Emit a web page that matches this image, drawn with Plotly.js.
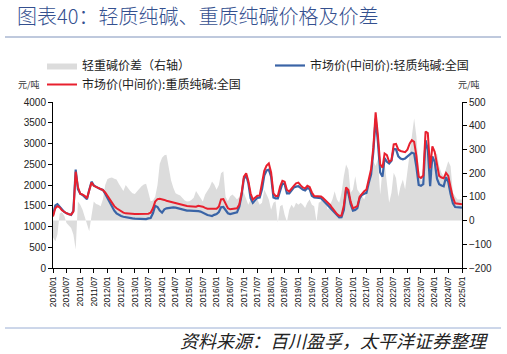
<!DOCTYPE html>
<html>
<head>
<meta charset="utf-8">
<script src="https://cdn.plot.ly/plotly-3.0.1.min.js"></script>
<style>html,body{margin:0;padding:0;background:#fff;}#chart{width:507px;height:354px;}</style>
</head>
<body>
<div id="chart"></div>
<script>
// Monthly data, 2010/01 .. 2025/01
const startYear = 2010;
const monthCount = 181;

// 市场价(中间价):轻质纯碱:全国 (元/吨)
const lightPrice = [
1280,1510,1540,1480,1400,1350,1317,1295,1277,1380,2370,1900,
1790,1760,1704,1655,1880,2080,1990,1950,1925,1900,1880,1790,
1680,1600,1460,1380,1317,1280,1253,1235,1221,1210,1200,1197,
1190,1185,1180,1175,1173,1180,1195,1205,1317,1500,1470,1382,
1334,1414,1438,1450,1462,1460,1455,1440,1420,1400,1390,1382,
1382,1382,1382,1380,1370,1360,1330,1300,1277,1265,1253,1280,
1301,1350,1462,1470,1400,1320,1301,1320,1334,1340,1480,1750,
2150,2230,2050,1680,1570,1640,1690,1700,1900,2230,2350,2370,
2200,1700,1680,1680,1880,2040,2020,1800,1800,1870,1940,1960,
1970,1930,1890,1870,1930,1900,1740,1700,1700,1690,1680,1620,
1570,1500,1440,1380,1317,1260,1221,1225,1400,1880,1800,1540,
1382,1400,1440,1680,1760,1790,1810,2050,2250,2800,3600,3050,
2300,2200,2650,2560,2520,2587,2870,2860,2690,2640,2620,2640,
2690,2730,2780,2760,2440,2000,1980,2020,3080,2850,1970,2690,
2560,2150,2020,1990,1970,2190,2070,1780,1560,1470,1465,1460,
1455
];

// 市场价(中间价):重质纯碱:全国 (元/吨)
const heavyPrice = [
1240,1440,1490,1460,1390,1350,1320,1295,1285,1360,2320,1950,
1790,1770,1740,1680,1880,2060,1980,1950,1920,1900,1880,1820,
1740,1640,1560,1490,1440,1400,1360,1335,1317,1310,1305,1300,
1300,1300,1300,1300,1300,1300,1310,1330,1440,1600,1660,1670,
1660,1640,1620,1605,1590,1570,1560,1545,1530,1515,1505,1495,
1490,1485,1480,1478,1500,1495,1478,1450,1430,1430,1430,1430,
1430,1480,1655,1660,1560,1440,1414,1420,1438,1440,1530,1800,
2200,2280,2100,1800,1650,1700,1740,1750,2100,2340,2470,2520,
2300,1800,1736,1736,1960,2100,2080,1880,1845,1900,1980,2040,
2057,1990,1940,1920,1980,1950,1820,1736,1736,1736,1725,1680,
1630,1570,1520,1440,1370,1300,1260,1265,1500,1940,1880,1600,
1438,1460,1490,1720,1790,1850,1890,2150,2380,2900,3750,3200,
2500,2420,2760,2720,2560,2600,2980,2990,2850,2820,2800,2790,
2850,3000,3080,3040,2700,2200,2170,2230,3286,3250,2400,2930,
2800,2450,2220,2180,2162,2290,2220,1950,1700,1560,1550,1540,
1535
];

// 轻重碱价差（右轴） (元/吨)
const spread = [
-70,-87,-59,30,35,20,-10,-20,-31,-59,-122,80,
67,46,15,-20,-45,20,80,70,67,60,90,150,
175,180,182,176,173,155,140,125,150,135,125,115,
112,124,135,145,152,155,120,82,85,100,150,240,
265,275,278,230,170,138,115,110,106,95,85,80,
82,88,96,125,110,96,80,110,124,140,165,152,
130,150,200,208,100,82,103,110,100,89,100,131,
117,89,67,89,81,75,89,67,75,131,110,89,
46,75,81,-8,60,67,25,-5,46,67,53,75,
67,75,67,53,75,89,67,60,-5,75,81,103,
75,46,67,89,124,89,75,117,187,236,215,117,
131,187,131,117,103,89,117,145,201,250,230,260,
110,215,243,159,75,117,202,180,100,145,173,131,
201,271,356,430,356,215,173,159,330,299,159,201,
271,285,229,201,187,220,250,229,117,103,89,89,
89
];

const months = [];
for (let i = 0; i < monthCount; i++) {
  const y = startYear + Math.floor(i / 12);
  const m = (i % 12) + 1;
  months.push(y + '-' + (m < 10 ? '0' + m : m) + '-01');
}

const W = 507, H = 354;
const mL = 53, mR = 45, mT = 102, mB = 86;
const pw = W - mL - mR, ph = H - mT - mB;
const px = x => (x - mL) / pw;
const py = y => 1 - (y - mT) / ph;

const cjk = '"Noto Sans CJK SC", "Noto Sans", sans-serif';
const latin = 'Arial, "Liberation Sans", sans-serif';

const traces = [
  {
    x: months, y: spread, type: 'scatter', mode: 'lines',
    name: '轻重碱价差（右轴）',
    fill: 'tozeroy', fillcolor: '#dcdcdc',
    line: {width: 0, color: '#dcdcdc'},
    yaxis: 'y', legend: 'legend'
  },
  {
    x: months, y: lightPrice, type: 'scatter', mode: 'lines',
    name: '市场价(中间价):轻质纯碱:全国',
    line: {width: 2.2, color: '#3a64a6'},
    yaxis: 'y2', legend: 'legend2'
  },
  {
    x: months, y: heavyPrice, type: 'scatter', mode: 'lines',
    name: '市场价(中间价):重质纯碱:全国',
    line: {width: 2, color: '#e8202e'},
    yaxis: 'y2', legend: 'legend'
  }
];

const layout = {
  width: W, height: H,
  margin: {l: mL, r: mR, t: mT, b: mB, pad: 0},
  paper_bgcolor: '#fff', plot_bgcolor: 'rgba(0,0,0,0)',
  font: {family: latin, size: 10, color: '#222'},
  title: {
    text: '图表40：轻质纯碱、重质纯碱价格及价差',
    x: 17 / W, xref: 'container', xanchor: 'left',
    y: 1 - 17 / H, yref: 'container', yanchor: 'middle',
    font: {family: cjk, size: 20, color: '#34508f', weight: 300}
  },
  showlegend: true,
  legend: {
    x: px(42), y: py(51), xanchor: 'left', yanchor: 'top',
    orientation: 'v', bgcolor: 'rgba(0,0,0,0)', borderwidth: 0,
    font: {family: cjk, size: 12, color: '#222'}, tracegroupgap: 0
  },
  legend2: {
    x: px(270), y: py(51), xanchor: 'left', yanchor: 'top',
    orientation: 'v', bgcolor: 'rgba(0,0,0,0)', borderwidth: 0,
    font: {family: cjk, size: 12, color: '#222'}
  },
  xaxis: {
    type: 'date',
    range: ['2010-01-01', '2025-01-01'],
    tick0: '2010-01-01', dtick: 'M6', tickformat: '%Y/%m',
    tickangle: -90, ticks: 'outside', ticklen: 4, tickcolor: '#000',
    showline: true, linecolor: '#000', linewidth: 1,
    showgrid: false, zeroline: false,
    tickfont: {family: latin, size: 8.5, color: '#111'}
  },
  yaxis: {
    side: 'right', range: [-200, 500], dtick: 100,
    ticks: 'outside', ticklen: 4, tickcolor: '#000',
    showline: true, linecolor: '#000', linewidth: 1,
    showgrid: false, zeroline: false,
    tickfont: {family: latin, size: 10, color: '#222'}
  },
  yaxis2: {
    overlaying: 'y', side: 'left', range: [0, 4000], dtick: 500,
    ticks: 'outside', ticklen: 4, tickcolor: '#000',
    showline: true, linecolor: '#000', linewidth: 1,
    showgrid: false, zeroline: false,
    tickfont: {family: latin, size: 10, color: '#222'}
  },
  shapes: [
    {type: 'line', xref: 'paper', yref: 'paper', x0: px(5), x1: px(501), y0: py(37), y1: py(37),
     line: {color: '#7f93bb', width: 1}},
    {type: 'line', xref: 'paper', yref: 'paper', x0: px(5), x1: px(501), y0: py(328), y1: py(328),
     line: {color: '#9aaed4', width: 1}}
  ],
  annotations: [
    {text: '元/吨', xref: 'paper', yref: 'paper', x: px(29), y: py(84),
     xanchor: 'center', yanchor: 'middle', showarrow: false,
     font: {family: cjk, size: 9, color: '#333'}},
    {text: '元/吨', xref: 'paper', yref: 'paper', x: px(469), y: py(84),
     xanchor: 'center', yanchor: 'middle', showarrow: false,
     font: {family: cjk, size: 9, color: '#333'}},
    {text: '资料来源：百川盈孚，太平洋证券整理', xref: 'paper', yref: 'paper',
     x: px(491), y: py(340), xanchor: 'right', yanchor: 'middle', showarrow: false,
     font: {family: cjk, size: 18, color: '#222', style: 'italic'}}
  ]
};

Plotly.newPlot('chart', traces, layout, {displayModeBar: false, staticPlot: true});
</script>
</body>
</html>
